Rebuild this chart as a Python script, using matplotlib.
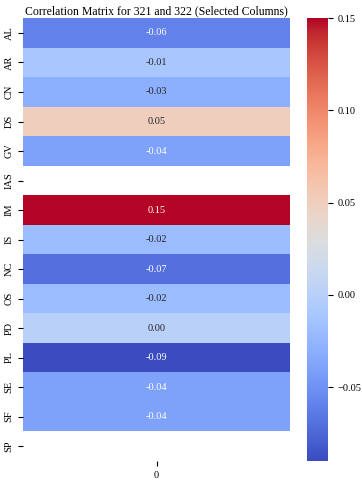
import numpy as np
import pandas as pd
import matplotlib
matplotlib.use("Agg")
import matplotlib.pyplot as plt
import seaborn as sns

rows = ["AL", "AR", "CN", "DS", "GV", "IAS", "IM", "IS", "NC", "OS", "PD", "PL", "SE", "SF", "SP"]
values = [-0.06, -0.01, -0.03, 0.05, -0.04, np.nan, 0.15, -0.02, -0.07, -0.02, 0.00, -0.09, -0.04, -0.04, np.nan]
col_labels = ["0"]

plt.rcParams['font.family'] = ['Liberation Serif', 'DejaVu Serif']

df = pd.DataFrame({0: values}, index=rows)

fig = plt.figure(figsize=(3.62, 4.8), dpi=100)
ax = fig.add_axes([0.064, 0.040, 0.737, 0.922])
cax = fig.add_axes([0.848, 0.040, 0.058, 0.922])
sns.heatmap(df, annot=True, fmt=".2f", cmap="coolwarm", ax=ax, cbar_ax=cax,
            annot_kws={"fontsize": 7.5})
ax.set_title("Correlation Matrix for 321 and 322 (Selected Columns)", fontsize=8.5, pad=3)
ax.set_yticklabels(rows, rotation=90, va="center", fontsize=7.5)
ax.set_xticklabels(col_labels, fontsize=7.5)
cax.tick_params(labelsize=7.5)
fig.savefig("out.png", dpi=100)
